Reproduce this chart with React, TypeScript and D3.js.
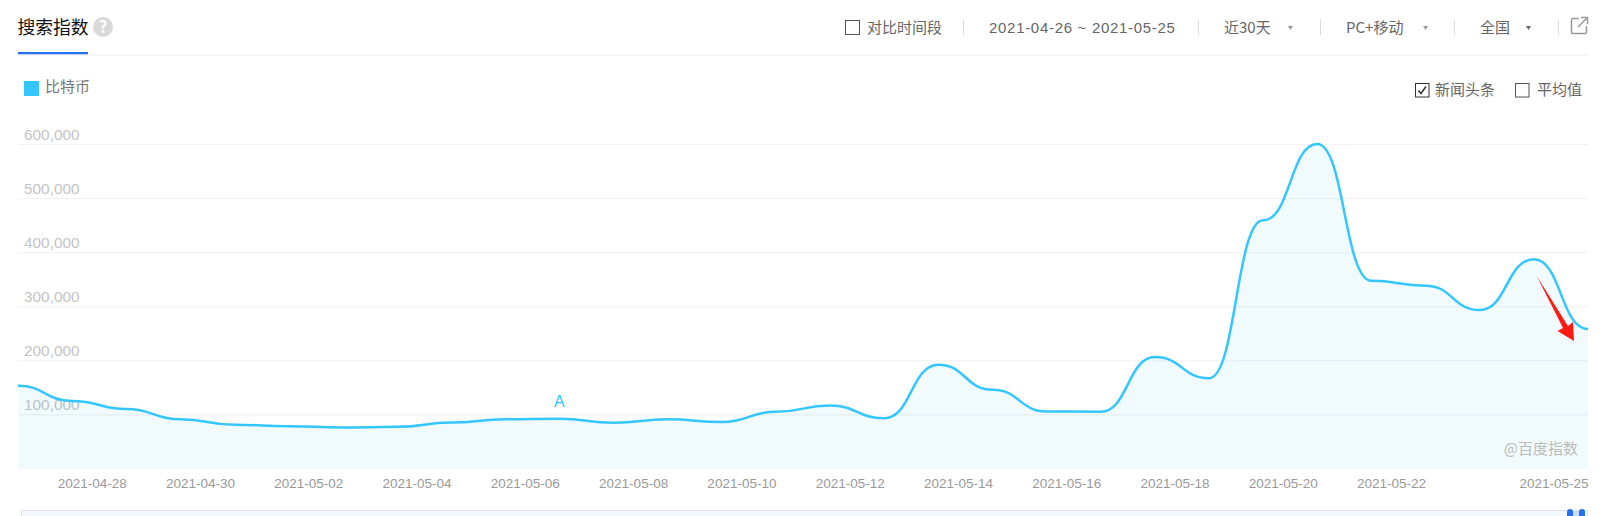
import { useEffect, useRef } from 'react';
import * as d3 from 'd3';

// 2021-04-26 ... 2021-05-25, one value per day
const dates = [
  '04-26', '04-27', '04-28', '04-29', '04-30', '05-01', '05-02', '05-03', '05-04', '05-05',
  '05-06', '05-07', '05-08', '05-09', '05-10', '05-11', '05-12', '05-13', '05-14', '05-15',
  '05-16', '05-17', '05-18', '05-19', '05-20', '05-21', '05-22', '05-23', '05-24', '05-25',
];
const values = [
  153000, 125000, 110000, 91000, 81000, 78000, 76000, 77000, 85000, 91000,
  92000, 84500, 91000, 86000, 105000, 116500, 93000, 192000, 145500, 105500,
  105000, 206000, 167000, 459000, 600000, 347000, 338000, 293000, 387000, 258000,
];
const yTicks = [100000, 200000, 300000, 400000, 500000, 600000];
const xTickLabels = ['04-28', '04-30', '05-02', '05-04', '05-06', '05-08', '05-10', '05-12', '05-14', '05-16', '05-18', '05-20', '05-22', '05-25'];
const seriesName = '比特币';

const font = '"Noto Sans CJK SC", "Noto Sans", sans-serif';
const latin = 'Arial, "Liberation Sans", sans-serif';
const blue = '#33c6ff';

const left = 18;
const right = 1588;
const baseline = 468.5;
const top600 = 144;

const App = () => {
  const xAxisRef = useRef<SVGGElement>(null);
  const yAxisRef = useRef<SVGGElement>(null);

  const x = d3.scalePoint<string>().domain(dates).range([left, right]);
  const y = d3.scaleLinear().domain([0, 600000]).range([baseline, top600]);

  // flat tangent at every day, like the original chart
  const area = d3.area<number>()
    .x((_, i) => x(dates[i]) as number)
    .y0(baseline + 0.5)
    .y1(d => y(d))
    .curve(d3.curveBumpX);
  const line = d3.line<number>()
    .x((_, i) => x(dates[i]) as number)
    .y(d => y(d))
    .curve(d3.curveBumpX);

  useEffect(() => {
    const xAxis = d3.select(xAxisRef.current);
    xAxis.call(
      d3.axisBottom(x).tickValues(xTickLabels).tickSize(0).tickFormat(d => `2021-${d}`) as any
    );
    xAxis.select('.domain').remove();
    xAxis.selectAll('text')
      .attr('text-anchor', 'end')
      .attr('dy', 0)
      .attr('y', 19)
      .attr('font-family', latin)
      .attr('font-size', 13.5)
      .attr('fill', '#999');

    const yAxis = d3.select(yAxisRef.current);
    yAxis.call(
      d3.axisRight(y).tickValues(yTicks).tickSize(right - left).tickFormat(d3.format(',') as any) as any
    );
    yAxis.select('.domain').remove();
    yAxis.selectAll('line').attr('stroke', '#eeeeee').attr('stroke-opacity', 0.8);
    yAxis.selectAll('text')
      .attr('text-anchor', 'start')
      .attr('x', 6)
      .attr('dy', 0)
      .attr('y', -5)
      .attr('font-family', latin)
      .attr('font-size', 15.4)
      .attr('fill', '#c4c4c4');
  }, []);

  return (
    <svg width={1608} height={516} style={{ position: 'absolute', left: 0, top: 0 }} fontFamily={font}>
      {/* header */}
      <text x={17.5} y={33.5} fontSize={17.8} fill="#111">搜索指数</text>
      <circle cx={103} cy={27} r={10} fill="#d9d9d9" />
      <text x={103} y={33} fontSize={16} fontWeight={700} fill="#fff" textAnchor="middle">?</text>
      <rect x={18} y={52} width={70} height={2.5} fill="#2470f0" />
      <line x1={18} x2={right} y1={55} y2={55} stroke="#eeeeee" />

      <rect x={845.5} y={20.5} width={14} height={14} fill="#fff" stroke="#555" />
      <text x={867} y={33} fontSize={15} fill="#666">对比时间段</text>
      <line x1={963.5} x2={963.5} y1={19} y2={35} stroke="#ddd" />
      <text x={989} y={33} fontSize={15} fill="#666" fontFamily={latin} letterSpacing={0.7}>2021-04-26 ~ 2021-05-25</text>
      <line x1={1198.5} x2={1198.5} y1={19} y2={35} stroke="#ddd" />
      <text x={1224} y={33} fontSize={15} fill="#666">近30天</text>
      <path d="M1288 26h5l-2.5 4z" fill="#999" />
      <line x1={1320.5} x2={1320.5} y1={19} y2={35} stroke="#ddd" />
      <text x={1346} y={33} fontSize={15} fill="#666">PC+移动</text>
      <path d="M1423 26h5l-2.5 4z" fill="#999" />
      <line x1={1454.5} x2={1454.5} y1={19} y2={35} stroke="#ddd" />
      <text x={1480} y={33} fontSize={15} fill="#666">全国</text>
      <path d="M1526 26h5l-2.5 4z" fill="#666" />
      <line x1={1558.5} x2={1558.5} y1={19} y2={35} stroke="#ddd" />
      <path d="M1579 18.5h-6a1.5 1.5 0 0 0 -1.5 1.5v12a1.5 1.5 0 0 0 1.5 1.5h12a1.5 1.5 0 0 0 1.5 -1.5v-6" fill="none" stroke="#999" strokeWidth={1.5} />
      <path d="M1578 27l9-9M1581 17.5h6.5v6.5" fill="none" stroke="#999" strokeWidth={1.5} />

      {/* legend and toggles */}
      <rect x={24} y={81} width={15} height={15} fill={blue} />
      <text x={45} y={92} fontSize={15} fill="#777">{seriesName}</text>
      <rect x={1415.5} y={83.5} width={13.5} height={13.5} fill="#fff" stroke="#333" />
      <path d="M1418.5 90.5l2.5 3 5-7" fill="none" stroke="#333" strokeWidth={1.5} />
      <text x={1435} y={95} fontSize={15} fill="#666">新闻头条</text>
      <rect x={1515.5} y={83.5} width={13.5} height={13.5} fill="#fff" stroke="#555" />
      <text x={1537} y={95} fontSize={15} fill="#666">平均值</text>

      {/* chart */}
      <g ref={yAxisRef} transform={`translate(${left},0)`} />
      <path d={area(values) as string} fill="#33c6e6" fillOpacity={0.07} />
      <path d={line(values) as string} fill="none" stroke={blue} strokeWidth={2.5} />
      <g ref={xAxisRef} transform={`translate(0,${baseline})`} />
      <text x={x('05-06')} y={406.5} fontSize={16} fill={blue} textAnchor="middle" fontFamily={latin}>A</text>
      <text x={1578} y={454} fontSize={15} fill="#bbb" textAnchor="end">@百度指数</text>

      {/* red arrow drawn over the screenshot */}
      <path d="M1536.7 276L1568 326L1573 322L1574 341L1557.5 331L1563 328Z" fill="#ff1a12" />

      {/* range slider */}
      <rect x={21.5} y={510.5} width={1566} height={30} fill="#f3f8ff" stroke="#dde3ea" />
      <rect x={1573} y={511} width={6} height={10} fill="#c9dcfa" />
      <rect x={1567} y={509} width={6} height={22} rx={3} fill="#2470f0" />
      <rect x={1579} y={509} width={6} height={22} rx={3} fill="#2470f0" />
    </svg>
  );
};

export default App;
